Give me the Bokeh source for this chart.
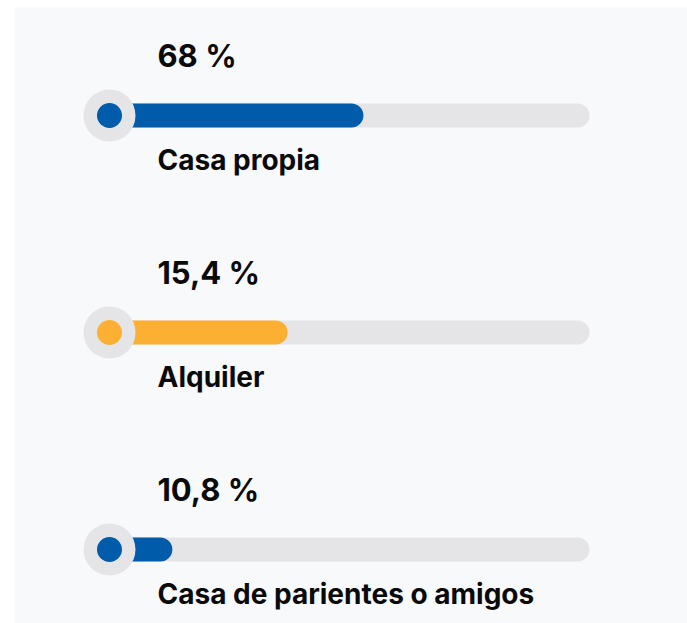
from bokeh.plotting import figure
from bokeh.models import ColumnDataSource, Range1d
from bokeh.core.properties import value
from bokeh.embed import file_html
from bokeh.resources import INLINE

# ---- data ----
categories = ["Casa propia", "Alquiler", "Casa de parientes o amigos"]
values = [68, 15.4, 10.8]
# fill level of each bar as drawn (percent of the track length)
bar_fill = [52.9, 37.1, 13.1]
track_max = [100, 100, 100]

# ---- styles ----
row_colors = ["#005baa", "#fbb034", "#005baa"]
TRACK = "#e5e5e7"
PANEL = "#f8f9fb"
FONT = value("Inter")

labels = [f"{v:g}".replace(".", ",") + " %" for v in values]
rows = list(range(len(categories)))

src = ColumnDataSource(dict(
    row=rows, cat=categories, label=labels, fill=bar_fill,
    tmax=track_max, color=row_colors,
))

W, H = 687, 623
p = figure(width=W, height=H, output_backend="svg", toolbar_location=None,
           x_range=Range1d(-19.79, 120.42), y_range=Range1d(2.341, -0.4977),
           min_border_left=14, min_border_right=0, min_border_top=7,
           min_border_bottom=0)
p.axis.visible = False
p.grid.visible = False
p.outline_line_color = None
p.background_fill_color = PANEL
p.border_fill_color = "white"

BAR_H = 0.1106
p.hbar(y="row", left=0, right="tmax", height=BAR_H, source=src,
       color=TRACK, line_color=None, border_radius=12)
p.hbar(y="row", left=0, right="fill", height=BAR_H, source=src,
       color="color", line_color=None, border_radius=12)
p.scatter(x=0, y="row", size=52, source=src, color=TRACK, line_color=None)
p.scatter(x=0, y="row", size=25, source=src, color="color", line_color=None)

p.text(x=10, y="row", text="label", source=src, text_font=FONT,
       text_font_style="bold", text_font_size="31px", text_color="#0a0a0a",
       text_baseline="middle", text_align="left", y_offset=-60)
p.text(x=10, y="row", text="cat", source=src, text_font=FONT,
       text_font_style="bold", text_font_size="28px", text_color="#0a0a0a",
       text_baseline="middle", text_align="left", y_offset=44)

open("out.html", "w").write(file_html(p, INLINE))
